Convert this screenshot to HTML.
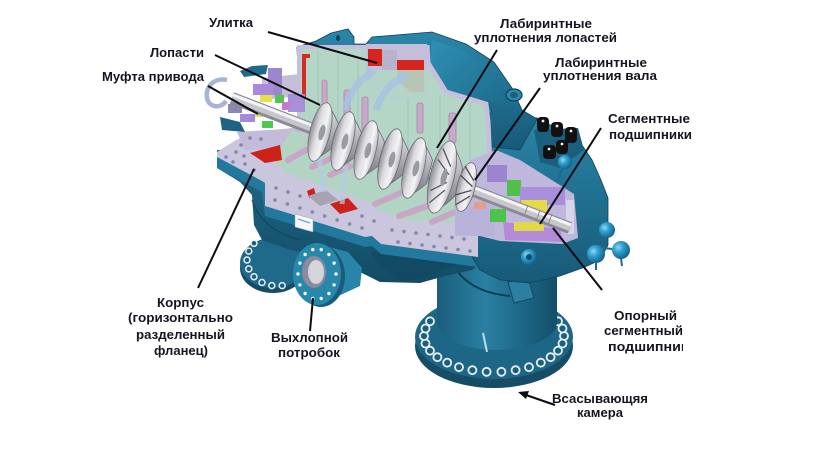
<!DOCTYPE html>
<html><head><meta charset="utf-8">
<style>
html,body{margin:0;padding:0;background:#fff;}
svg{display:block;}
text{font-family:"Liberation Sans","DejaVu Sans",sans-serif;font-weight:bold;font-size:13px;fill:#15151f;}
</style></head><body>
<svg width="815" height="452" viewBox="0 0 815 452" xmlns="http://www.w3.org/2000/svg">
<defs>
<linearGradient id="gTealV" x1="0" y1="0" x2="0" y2="1"><stop offset="0" stop-color="#2b87aa"/><stop offset="1" stop-color="#175a78"/></linearGradient>
<linearGradient id="gBody" x1="0" y1="0" x2="0" y2="1"><stop offset="0" stop-color="#1f6c8c"/><stop offset="1" stop-color="#134b64"/></linearGradient>
<linearGradient id="gCyl" x1="0" y1="0" x2="1" y2="0"><stop offset="0" stop-color="#1a5d7b"/><stop offset="0.4" stop-color="#2a80a3"/><stop offset="0.7" stop-color="#1d6888"/><stop offset="1" stop-color="#144e68"/></linearGradient>
<linearGradient id="gSil" x1="0" y1="0" x2="1" y2="1"><stop offset="0" stop-color="#f6f6f6"/><stop offset="0.5" stop-color="#c6c6ca"/><stop offset="1" stop-color="#7a7a82"/></linearGradient>
<linearGradient id="gFace" x1="0" y1="0" x2="1" y2="0"><stop offset="0" stop-color="#8c8c94"/><stop offset="0.35" stop-color="#dcdce0"/><stop offset="0.7" stop-color="#f4f4f6"/><stop offset="1" stop-color="#b4b4ba"/></linearGradient>
<linearGradient id="gHub" x1="0" y1="0" x2="0" y2="1"><stop offset="0" stop-color="#e8e8ec"/><stop offset="0.5" stop-color="#a8a8b0"/><stop offset="1" stop-color="#707078"/></linearGradient>
<radialGradient id="gBall" cx="0.35" cy="0.35" r="0.7"><stop offset="0" stop-color="#8fd6f2"/><stop offset="0.4" stop-color="#2f9fd0"/><stop offset="1" stop-color="#135f88"/></radialGradient>
<linearGradient id="gDome" x1="0" y1="0" x2="1" y2="1"><stop offset="0" stop-color="#2f90b5"/><stop offset="1" stop-color="#1c6a8a"/></linearGradient>
</defs>

<!-- Suction chamber -->
<ellipse cx="494" cy="346" rx="79" ry="42" fill="#154c66"/>
<ellipse cx="494" cy="337" rx="79" ry="42" fill="#1e6686"/>
<g fill="#1a5f7d" stroke="#e9eef2" stroke-width="1.8">
<circle cx="564" cy="336" r="4"/><circle cx="562.5" cy="343.5" r="4"/><circle cx="558" cy="350.7" r="4"/><circle cx="550.6" cy="357.2" r="4"/><circle cx="540.8" cy="362.7" r="4"/><circle cx="529" cy="367.2" r="4"/><circle cx="515.6" cy="370.2" r="4"/><circle cx="501.4" cy="371.8" r="4"/><circle cx="486.6" cy="371.8" r="4"/><circle cx="472.4" cy="370.2" r="4"/><circle cx="459" cy="367.2" r="4"/><circle cx="447.2" cy="362.7" r="4"/><circle cx="437.4" cy="357.2" r="4"/><circle cx="430" cy="350.7" r="4"/><circle cx="425.5" cy="343.5" r="4"/><circle cx="424" cy="336" r="4"/><circle cx="425.5" cy="328.5" r="4"/><circle cx="430" cy="321.3" r="4"/><circle cx="562.5" cy="328.5" r="4"/><circle cx="558" cy="321.3" r="4"/><circle cx="551" cy="315" r="4"/>
</g>
<path d="M437,250 L437,322 A60,28 0 0 0 557,322 L557,250 Z" fill="url(#gCyl)"/>
<path d="M452,262 Q466,292 510,296" fill="none" stroke="#0e3d52" stroke-width="2"/>
<path d="M508,282 L528,278 L534,298 L514,303 Z" fill="#2a7fa2" stroke="#124a63" stroke-width="1"/>
<path d="M483,333 L487,352" stroke="#e8f4fa" stroke-width="2" opacity="0.8"/>

<!-- Left disc flange -->
<ellipse cx="273" cy="268" rx="33" ry="25" fill="#154c66"/>
<ellipse cx="273" cy="263" rx="33" ry="25" fill="#1f6a8a"/>
<g fill="#1a5f7d" stroke="#e9eef2" stroke-width="1.5">
<circle cx="254" cy="243.3" r="3"/><circle cx="248.8" cy="251.1" r="3"/><circle cx="247" cy="260" r="3"/><circle cx="248.8" cy="268.9" r="3"/><circle cx="254" cy="276.7" r="3"/><circle cx="262" cy="282.5" r="3"/><circle cx="271.8" cy="285.6" r="3"/><circle cx="282.2" cy="285.6" r="3"/>
</g>

<!-- Lower body -->
<path d="M217,150 L217,168 L240,182 L252,195 L254,225 L262,240 L290,250 L330,256 L352,268 L380,282 L420,283 L445,276 L472,270 L482,262 L482,220 L300,150 Z" fill="url(#gBody)"/>
<path d="M370,252 Q392,286 420,278 Q445,270 462,262 L462,250 Z" fill="#124761" opacity="0.7"/>
<path d="M252,200 Q262,230 300,240" fill="none" stroke="#0f3f55" stroke-width="1.5" opacity="0.6"/>
<!-- flange thickness -->
<path d="M217,157 L262,181 L265,183 L265,206 L365,237 L372,236 L381,244 L478,257 L478,267 L381,254 L372,246 L365,247 L265,216 L262,192 L217,168 Z" fill="#23789d"/>

<!-- Discharge nozzle -->
<path d="M318,244 L348,252 L362,268 L360,286 L334,298 Z" fill="#2884a8"/>
<ellipse cx="321" cy="276" rx="24" ry="31" fill="#185b7a"/>
<ellipse cx="317" cy="274" rx="24" ry="31" fill="#2788ac"/>
<g fill="#f2f6f8">
<circle cx="336" cy="274" r="1.7"/><circle cx="334.1" cy="284.9" r="1.7"/><circle cx="328.9" cy="293.5" r="1.7"/><circle cx="321.2" cy="298.4" r="1.7"/><circle cx="312.8" cy="298.4" r="1.7"/><circle cx="305.1" cy="293.5" r="1.7"/><circle cx="299.9" cy="284.9" r="1.7"/><circle cx="298" cy="274" r="1.7"/><circle cx="299.9" cy="263.1" r="1.7"/><circle cx="305.1" cy="254.5" r="1.7"/><circle cx="312.8" cy="249.6" r="1.7"/><circle cx="321.2" cy="249.6" r="1.7"/><circle cx="328.9" cy="254.5" r="1.7"/><circle cx="334.1" cy="263.1" r="1.7"/>
</g>
<ellipse cx="314" cy="272" rx="12" ry="16" fill="#8c8a9c"/>
<ellipse cx="316" cy="272" rx="8" ry="12" fill="#d4d4dc"/>

<!-- Right bearing housing -->
<path d="M498,106 L520,116 L537,118 L560,130 L580,142 L592,160 L601,180 L608,198 L608,245 L600,260 L585,267 L560,276 L530,283 L500,280 L480,270 L468,250 L468,200 L480,160 Z" fill="url(#gTealV)" stroke="#0f4258" stroke-width="0.8"/>

<!-- Upper casing -->
<path d="M297,47 L316,41 L331,33 L348,29 L354,37 L354,44 L366,44 L372,37 L432,32 L466,44 L494,62 L512,88 L522,110 L537,119 L520,150 L300,125 Z" fill="url(#gTealV)" stroke="#0f4258" stroke-width="0.8"/>
<path d="M432,40 L462,50 L487,66 L503,88 L510,108 L494,102 L450,92 L430,64 Z" fill="url(#gDome)"/>
<ellipse cx="338" cy="38" rx="2" ry="3" fill="#0f4258"/>
<rect x="398" y="49" width="15" height="6" fill="#2f8db2" stroke="#134d66" stroke-width="0.8"/>
<path d="M470,103 L488,102 L492,113 L473,114 Z" fill="#2e88ab" stroke="#134d66" stroke-width="0.8"/>
<ellipse cx="514" cy="95" rx="8" ry="6" fill="#2b88ad" stroke="#0f4258" stroke-width="1.2"/>
<ellipse cx="514" cy="95" rx="4" ry="3" fill="#1a5f7d"/>

<!-- Upper interior -->
<path d="M299,48 L366,48 L366,46 L426,46 L428,63 L446,92 L486,104 L488,120 L490,165 L470,190 L300,130 Z" fill="#b4d6c6"/>
<g stroke="#a2c6b5" stroke-width="1">
<line x1="318" y1="50" x2="318" y2="130"/><line x1="338" y1="50" x2="338" y2="138"/><line x1="358" y1="60" x2="358" y2="146"/><line x1="408" y1="92" x2="408" y2="160"/><line x1="440" y1="95" x2="440" y2="172"/><line x1="470" y1="102" x2="470" y2="182"/>
</g>
<polyline points="299,124 299,47 366,47" fill="none" stroke="#c6c0dc" stroke-width="4"/>
<polyline points="427,45 428,63 446,92 486,104 488,122 490,165" fill="none" stroke="#c6c0dc" stroke-width="5"/>
<path d="M302,54 L310,54 L310,58 L306,58 L306,98 L302,98 Z" fill="#d42a22"/>
<rect x="366" y="44" width="61" height="56" fill="#c4bedb"/>
<rect x="368" y="49" width="14" height="17" fill="#d4261e"/>
<path d="M397,60 L424,60 L424,92 L410,92 L402,84 L397,84 Z" fill="#d4261e"/>
<rect x="382" y="50" width="15" height="20" fill="#b8b2cc"/>
<rect x="366" y="70" width="61" height="30" fill="#b4d6c6" opacity="0.9"/>
<g fill="#c9a9c9" stroke="#a888a8" stroke-width="0.8">
<rect x="322" y="80" width="5" height="37" rx="2"/>
<rect x="344" y="90" width="6" height="40" rx="2"/>
<rect x="362" y="97" width="6" height="36" rx="2"/>
<rect x="417" y="103" width="6" height="30" rx="2"/>
<rect x="449" y="113" width="7" height="30" rx="2"/>
</g>
<g fill="none" stroke="#a9c3e2" stroke-width="7" opacity="0.85">
<path d="M345,110 Q352,84 370,74"/>
<path d="M376,110 Q384,86 402,78"/>
</g>
<polygon points="366,67 378,72 368,80" fill="#a9c3e2" opacity="0.9"/>
<polygon points="398,71 410,76 400,84" fill="#a9c3e2" opacity="0.9"/>

<!-- Left bearing housing top -->
<path d="M240,71 L252,66 L268,65 L266,74 L244,77 Z" fill="#1f6b8b"/>
<path d="M262,78 L300,74 L300,96 L262,100 Z" fill="#c4bedb"/>

<!-- Flange plate -->
<path d="M217,152 L236,140 L250,133 L300,127 L470,195 L478,222 L478,257 L381,244 L372,236 L365,237 L265,206 L265,183 L262,181 L217,157 Z" fill="#cac6de"/>
<path d="M237,132 L300,128 L300,147 L245,150 Z" fill="#c2bcda"/>
<!-- Lower green interior -->
<path d="M292,130 L470,194 L470,224 L400,220 L362,200 L285,172 L272,160 L280,148 Z" fill="#b2d4c2"/>
<path d="M250,153 L280,145 L282,160 L265,163 Z" fill="#cc2219"/>
<path d="M307,191 L314,188 L316,196 L309,198 Z" fill="#cc2219"/>
<path d="M308,196 L326,190 L338,200 L320,206 Z" fill="#a6a4b2"/>
<path d="M330,204 L348,198 L358,209 L340,214 Z" fill="#cc2219"/>
<g stroke="#c7a7c5" stroke-width="6" stroke-linecap="round">
<line x1="288" y1="160" x2="306" y2="150"/>
<line x1="312" y1="167" x2="334" y2="157"/>
<line x1="330" y1="175" x2="350" y2="166"/>
<line x1="375" y1="204" x2="405" y2="191"/>
<line x1="399" y1="216" x2="427" y2="206"/>
<line x1="432" y1="222" x2="455" y2="212"/>
</g>
<g stroke="#b4cce6" stroke-width="5" opacity="0.7">
<line x1="318" y1="150" x2="324" y2="192"/>
<line x1="346" y1="165" x2="342" y2="204"/>
</g>
<!-- nameplate -->
<path d="M295,214 L313,219 L313,232 L295,227 Z" fill="#f4f6f8" stroke="#8aa" stroke-width="0.5"/>
<line x1="298" y1="219" x2="310" y2="223" stroke="#6a8ac8" stroke-width="1"/>

<!-- flange holes -->
<g fill="#8684ac">
<circle cx="226" cy="157" r="1.8"/><circle cx="236" cy="152" r="1.8"/><circle cx="233" cy="162" r="1.8"/><circle cx="245" cy="164" r="1.8"/><circle cx="254" cy="170" r="1.8"/><circle cx="244" cy="156" r="1.8"/><circle cx="250" cy="138" r="1.8"/><circle cx="261" cy="139" r="1.8"/><circle cx="241" cy="145" r="1.8"/>
<circle cx="275" cy="200" r="1.8"/><circle cx="287.4" cy="204" r="1.8"/><circle cx="299.9" cy="208" r="1.8"/><circle cx="312.3" cy="212" r="1.8"/><circle cx="324.7" cy="216" r="1.8"/><circle cx="337.1" cy="220" r="1.8"/><circle cx="349.6" cy="224" r="1.8"/><circle cx="362" cy="228" r="1.8"/>
<circle cx="276" cy="188" r="1.8"/><circle cx="288" cy="192" r="1.8"/><circle cx="300" cy="196" r="1.8"/><circle cx="362" cy="216" r="1.8"/><circle cx="374" cy="221" r="1.8"/>
<circle cx="392" cy="230" r="1.8"/><circle cx="404" cy="231.5" r="1.8"/><circle cx="416" cy="233" r="1.8"/><circle cx="428" cy="234.5" r="1.8"/><circle cx="440" cy="236" r="1.8"/><circle cx="452" cy="237.5" r="1.8"/><circle cx="464" cy="239" r="1.8"/>
<circle cx="398" cy="242" r="1.8"/><circle cx="410" cy="243.5" r="1.8"/><circle cx="422" cy="245" r="1.8"/><circle cx="434" cy="246.5" r="1.8"/><circle cx="446" cy="248" r="1.8"/><circle cx="458" cy="249.5" r="1.8"/><circle cx="470" cy="251" r="1.8"/>
</g>

<!-- Right housing cut interior -->
<path d="M470,160 L496,150 L520,160 L574,194 L578,238 L562,244 L500,241 L472,234 L456,220 Z" fill="#c0b8dc"/>
<rect x="455" y="206" width="40" height="30" fill="#b9b3da"/>
<rect x="487" y="165" width="20" height="17" fill="#9d84d0"/>
<rect x="507" y="180" width="14" height="16" fill="#4fc04a"/>
<rect x="520" y="187" width="45" height="18" fill="#a88edb"/>
<rect x="521" y="200" width="26" height="12" fill="#e3dc48"/>
<rect x="490" y="209" width="16" height="13" fill="#4cc44c"/>
<path d="M503,222 L560,229 L563,242 L505,240 Z" fill="#b38ad6"/>
<rect x="514" y="222" width="30" height="9" fill="#e0d848"/>
<rect x="474" y="202" width="12" height="7" fill="#e0a090"/>
<rect x="566" y="200" width="8" height="34" fill="#d8d4ea"/>

<!-- Left coupling parts -->
<rect x="268" y="68" width="14" height="27" fill="#9c86cc"/>
<rect x="253" y="84" width="20" height="11" fill="#a88ad8"/>
<rect x="260" y="95" width="12" height="7" fill="#e6de4a"/>
<rect x="275" y="95" width="9" height="8" fill="#4ec84e"/>
<rect x="288" y="94" width="17" height="18" fill="#a890d8"/>
<rect x="282" y="102" width="8" height="8" fill="#c07ad0"/>
<rect x="228" y="104" width="14" height="9" fill="#8c86b0"/>
<rect x="240" y="114" width="15" height="8" fill="#a888d8"/>
<rect x="255" y="111" width="8" height="6" fill="#e6de4a"/>
<rect x="262" y="121" width="11" height="7" fill="#4ec84e"/>
<path d="M220,117 L240,122 L245,132 L222,130 Z" fill="#1d6483"/>
<path d="M227,80 C213,77 205,88 207,98 C209,108 221,109 226,101" fill="none" stroke="#a8b4d6" stroke-width="4.5"/>

<!-- Shaft -->
<line x1="232" y1="98" x2="570" y2="228" stroke="#8a8a92" stroke-width="12"/>
<line x1="232" y1="97" x2="570" y2="227" stroke="#c6c6cc" stroke-width="8"/>
<line x1="233" y1="95" x2="571" y2="225" stroke="#f4f4f6" stroke-width="3"/>
<g stroke="#8a8a92" stroke-width="1">
<line x1="528" y1="205" x2="524" y2="216"/><line x1="540" y1="210" x2="536" y2="221"/><line x1="552" y1="214" x2="548" y2="225"/>
</g>

<!-- Impellers -->
<g stroke-width="0.8">
<g transform="translate(320,132) rotate(14)"><ellipse cx="10" cy="0" rx="8" ry="14" fill="url(#gHub)" stroke="#6a6a72"/><path d="M0,-30 Q12,-18 16,-12 L16,12 Q12,18 0,30 Z" fill="url(#gHub)" stroke="#6a6a72"/><ellipse cx="0" cy="0" rx="10" ry="30" fill="url(#gFace)" stroke="#6a6a72"/><ellipse cx="2" cy="0" rx="3" ry="8" fill="#9a9aa2"/></g>
<g transform="translate(343,141) rotate(14)"><path d="M0,-30 Q12,-18 16,-12 L16,12 Q12,18 0,30 Z" fill="url(#gHub)" stroke="#6a6a72"/><ellipse cx="0" cy="0" rx="10" ry="30" fill="url(#gFace)" stroke="#6a6a72"/><ellipse cx="2" cy="0" rx="3" ry="8" fill="#9a9aa2"/></g>
<g transform="translate(366,150) rotate(14)"><path d="M0,-30 Q12,-18 16,-12 L16,12 Q12,18 0,30 Z" fill="url(#gHub)" stroke="#6a6a72"/><ellipse cx="0" cy="0" rx="10" ry="30" fill="url(#gFace)" stroke="#6a6a72"/><ellipse cx="2" cy="0" rx="3" ry="8" fill="#9a9aa2"/></g>
<g transform="translate(390,159) rotate(14)"><path d="M0,-31 Q12,-18 16,-12 L16,12 Q12,18 0,31 Z" fill="url(#gHub)" stroke="#6a6a72"/><ellipse cx="0" cy="0" rx="10" ry="31" fill="url(#gFace)" stroke="#6a6a72"/><ellipse cx="2" cy="0" rx="3" ry="8" fill="#9a9aa2"/></g>
<g transform="translate(414,168) rotate(14)"><path d="M0,-31 Q12,-18 16,-12 L16,12 Q12,18 0,31 Z" fill="url(#gHub)" stroke="#6a6a72"/><ellipse cx="0" cy="0" rx="10" ry="31" fill="url(#gFace)" stroke="#6a6a72"/><ellipse cx="2" cy="0" rx="3" ry="8" fill="#9a9aa2"/></g>
<g transform="translate(442,177) rotate(14)"><path d="M0,-37 Q14,-22 18,-13 L18,13 Q14,22 0,37 Z" fill="url(#gHub)" stroke="#6a6a72"/><ellipse cx="0" cy="0" rx="12" ry="37" fill="url(#gFace)" stroke="#6a6a72"/>
<g stroke="#55555e" stroke-width="1.3"><line x1="-6" y1="-28" x2="6" y2="-12"/><line x1="-8" y1="-16" x2="6" y2="-4"/><line x1="-6" y1="28" x2="6" y2="12"/><line x1="-8" y1="16" x2="6" y2="4"/></g><ellipse cx="2" cy="0" rx="3" ry="9" fill="#9a9aa2"/></g>
<g transform="translate(466,187) rotate(14)"><ellipse cx="0" cy="0" rx="9" ry="25" fill="url(#gFace)" stroke="#6a6a72"/>
<g stroke="#4c4c56" stroke-width="1.3"><line x1="-6" y1="-20" x2="6" y2="-8"/><line x1="-8" y1="-10" x2="6" y2="-2"/><line x1="-6" y1="20" x2="6" y2="8"/><line x1="-8" y1="10" x2="6" y2="2"/></g></g>
</g>

<!-- Knobs -->
<path d="M534,130 L578,128 L584,150 L560,168 L540,162 Z" fill="#1a5f7d"/>
<g fill="#111">
<rect x="537" y="117" width="12" height="15" rx="4"/>
<rect x="551" y="122" width="12" height="15" rx="4"/>
<rect x="565" y="127" width="12" height="16" rx="4"/>
<rect x="556" y="140" width="12" height="14" rx="4"/>
<rect x="543" y="145" width="13" height="14" rx="4"/>
</g>
<g fill="#eee">
<circle cx="543" cy="121" r="1.4"/><circle cx="557" cy="126" r="1.4"/><circle cx="571" cy="131" r="1.4"/><circle cx="562" cy="144" r="1.4"/><circle cx="549" cy="149" r="1.4"/>
</g>
<!-- Balls -->
<line x1="565" y1="163" x2="557" y2="182" stroke="#1a6a98" stroke-width="2"/>
<circle cx="565" cy="162" r="7" fill="url(#gBall)"/>
<g stroke="#1a6a98" stroke-width="2">
<line x1="590" y1="224" x2="604" y2="230"/><line x1="588" y1="246" x2="620" y2="250"/><line x1="588" y1="252" x2="596" y2="254"/>
<line x1="596" y1="262" x2="596" y2="270"/><line x1="621" y1="258" x2="622" y2="266"/>
</g>
<circle cx="607" cy="230" r="8" fill="url(#gBall)"/>
<circle cx="596" cy="254" r="9" fill="url(#gBall)"/>
<circle cx="621" cy="250" r="9" fill="url(#gBall)"/>
<circle cx="529" cy="257" r="8" fill="url(#gBall)"/>
<circle cx="529" cy="257" r="3" fill="#134d66"/>

<!-- Leader lines -->
<g stroke="#0c0c12" stroke-width="2" fill="none">
<line x1="268" y1="32" x2="377" y2="63"/>
<line x1="215" y1="55" x2="320" y2="105"/>
<line x1="208" y1="86" x2="258" y2="114"/>
<line x1="497" y1="50" x2="437" y2="148"/>
<line x1="540" y1="88" x2="475" y2="180"/>
<line x1="601" y1="128" x2="540" y2="224"/>
<line x1="602" y1="290" x2="553" y2="228"/>
<line x1="198" y1="288" x2="254" y2="169"/>
<line x1="310" y1="331" x2="313" y2="298"/>
<line x1="555" y1="405" x2="526" y2="395"/>
</g>
<polygon points="518,392 529,391 526,399" fill="#0c0c12"/>

<!-- Labels -->
<text x="209" y="27" textLength="44" lengthAdjust="spacingAndGlyphs">Улитка</text>
<text x="150" y="57" textLength="54" lengthAdjust="spacingAndGlyphs">Лопасти</text>
<text x="102" y="81" textLength="102" lengthAdjust="spacingAndGlyphs">Муфта привода</text>
<text x="500" y="28" textLength="92" lengthAdjust="spacingAndGlyphs">Лабиринтные</text>
<text x="474" y="42" textLength="143" lengthAdjust="spacingAndGlyphs">уплотнения лопастей</text>
<text x="555" y="67" textLength="92" lengthAdjust="spacingAndGlyphs">Лабиринтные</text>
<text x="543" y="80" textLength="114" lengthAdjust="spacingAndGlyphs">уплотнения вала</text>
<text x="608" y="123" textLength="82" lengthAdjust="spacingAndGlyphs">Сегментные</text>
<text x="609" y="139" textLength="83" lengthAdjust="spacingAndGlyphs">подшипники</text>
<text x="157" y="307" textLength="47" lengthAdjust="spacingAndGlyphs">Корпус</text>
<text x="128" y="322" textLength="105" lengthAdjust="spacingAndGlyphs">(горизонтально</text>
<text x="136" y="339" textLength="89" lengthAdjust="spacingAndGlyphs">разделенный</text>
<text x="154" y="355" textLength="54" lengthAdjust="spacingAndGlyphs">фланец)</text>
<text x="271" y="342" textLength="77" lengthAdjust="spacingAndGlyphs">Выхлопной</text>
<text x="278" y="357" textLength="62" lengthAdjust="spacingAndGlyphs">потробок</text>
<text x="614" y="320" textLength="63" lengthAdjust="spacingAndGlyphs">Опорный</text>
<text x="604" y="335" textLength="79" lengthAdjust="spacingAndGlyphs">сегментный</text>
<text x="608" y="351" textLength="80" lengthAdjust="spacingAndGlyphs">подшипник</text>
<rect x="683" y="338" width="20" height="18" fill="#fff"/>
<text x="552" y="403" textLength="96" lengthAdjust="spacingAndGlyphs">Всасывающяя</text>
<text x="577" y="417" textLength="46" lengthAdjust="spacingAndGlyphs">камера</text>
</svg>
</body></html>
